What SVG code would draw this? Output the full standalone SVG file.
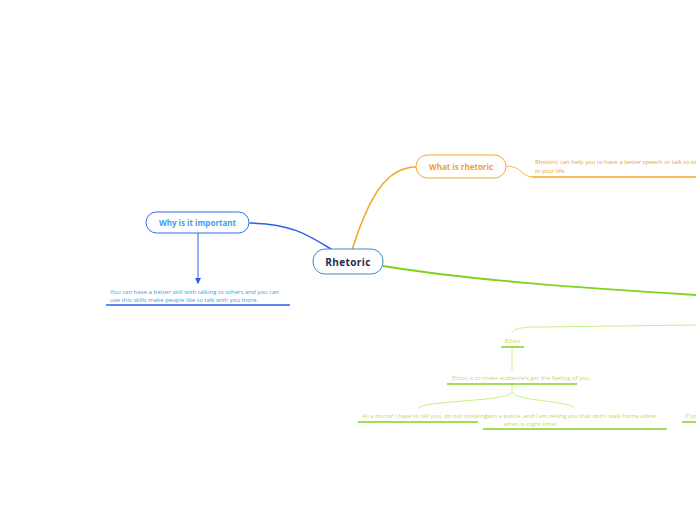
<svg xmlns="http://www.w3.org/2000/svg" width="696" height="520" viewBox="0 0 696 520">
<defs>
<style>
.t{font-family:"Open Sans","Noto Sans","Liberation Sans",sans-serif;}
.title{font-weight:bold;}
.small{font-size:6px;}
.ol{fill:none;stroke-linecap:round;}
</style>
<marker id="arr" viewBox="0 0 6 6" refX="5" refY="3" markerWidth="6" markerHeight="6" orient="auto" markerUnits="userSpaceOnUse">
<path d="M0,0 L6,3 L0,6 Z" fill="#2a5ef0"/>
</marker>
</defs>
<rect width="696" height="520" fill="#ffffff"/>
<g id="connectors">
<path class="ol" d="M250,223 C290,224 305,233 331,249" stroke="#2a5ef0" stroke-width="1.5"/>
<path class="ol" d="M198,233 L198,283" stroke="#2a5ef0" stroke-width="1" marker-end="url(#arr)"/>
<path class="ol" d="M352,250 C368,200 385,167 416,167" stroke="#f5a623" stroke-width="1.5"/>
<path class="ol" d="M506,166 C522,166 522,177 532,177" stroke="#f5a623" stroke-width="0.8"/>
<path class="ol" d="M383,266 C470,280 580,288 696,295" stroke="#7ed321" stroke-width="1.8"/>
<path class="ol" d="M512,333 C514,328 522,327 540,327 L696,325" stroke="#c8f08a" stroke-width="1"/>
<path class="ol" d="M512,347 L512,370" stroke="#c8f08a" stroke-width="1"/>
<path class="ol" d="M512,384 L512,392 C508,402 425,400 418,408" stroke="#c8f08a" stroke-width="1"/>
<path class="ol" d="M512,392 C516,402 568,400 575,408" stroke="#c8f08a" stroke-width="1"/>
</g>
<g id="rhetoric">
<rect x="313" y="249" width="70" height="25" rx="12" fill="#ffffff" stroke="#3a8fd0" stroke-width="1"/>
<text class="t title" x="348" y="265.5" font-size="10" letter-spacing="0.4" text-anchor="middle" fill="#1a2a4a">Rhetoric</text>
</g>
<g id="why">
<rect x="146" y="212" width="103" height="21" rx="10.5" fill="#ffffff" stroke="#2f6cf0" stroke-width="1"/>
<text class="t title" x="197.5" y="225.5" font-size="8" text-anchor="middle" fill="#3aa0e8">Why is it important</text>
</g>
<g id="why-text">
<text class="t small" x="110" y="294" fill="#3aa0e8">You can have a better skill with talking to others and you can</text>
<text class="t small" x="110" y="302" fill="#3aa0e8">use this skills make people like to talk with you more.</text>
<line x1="106" y1="305" x2="290" y2="305" stroke="#2a5ef0" stroke-width="1.5"/>
</g>
<g id="what">
<rect x="416" y="155" width="90" height="23" rx="11.5" fill="#ffffff" stroke="#f5a623" stroke-width="1"/>
<text class="t title" x="461" y="169.5" font-size="8" text-anchor="middle" fill="#f0a030">What is rhetoric</text>
</g>
<g id="what-text">
<text class="t small" x="535" y="164" fill="#f0a030">Rhetoric can help you to have a better speech or talk to ot</text>
<text class="t small" x="535" y="173" fill="#f0a030">in your life.</text>
<line x1="532" y1="177" x2="696" y2="177" stroke="#f5a623" stroke-width="1.5"/>
</g>
<g id="ethos">
<text class="t small" x="512.5" y="343" text-anchor="middle" fill="#c4d860">Ethos</text>
<line x1="501" y1="347" x2="524" y2="347" stroke="#7ed321" stroke-width="1.5"/>
</g>
<g id="ethos-def">
<text class="t small" x="452" y="380" fill="#c4d860">Ethos is to make audience's get the feeling of you.</text>
<line x1="447" y1="384" x2="577" y2="384" stroke="#7ed321" stroke-width="1.5"/>
</g>
<g id="doctor">
<text class="t small" x="362" y="418" fill="#c4d860">As a doctor I have to tell you, do not smoking!</text>
<line x1="358" y1="422" x2="478" y2="422" stroke="#7ed321" stroke-width="1.5"/>
</g>
<g id="police">
<text class="t small" x="485" y="418" fill="#c4d860">I am a police, and I am telling you that don't walk home alone</text>
<text class="t small" x="530" y="426" text-anchor="middle" fill="#c4d860">when is night time!</text>
<line x1="483" y1="429" x2="667" y2="429" stroke="#7ed321" stroke-width="1.5"/>
</g>
<g id="ifyou">
<text class="t small" x="685" y="418" fill="#c4d860">If yo</text>
<line x1="682" y1="422" x2="696" y2="422" stroke="#7ed321" stroke-width="1.5"/>
</g>
</svg>
